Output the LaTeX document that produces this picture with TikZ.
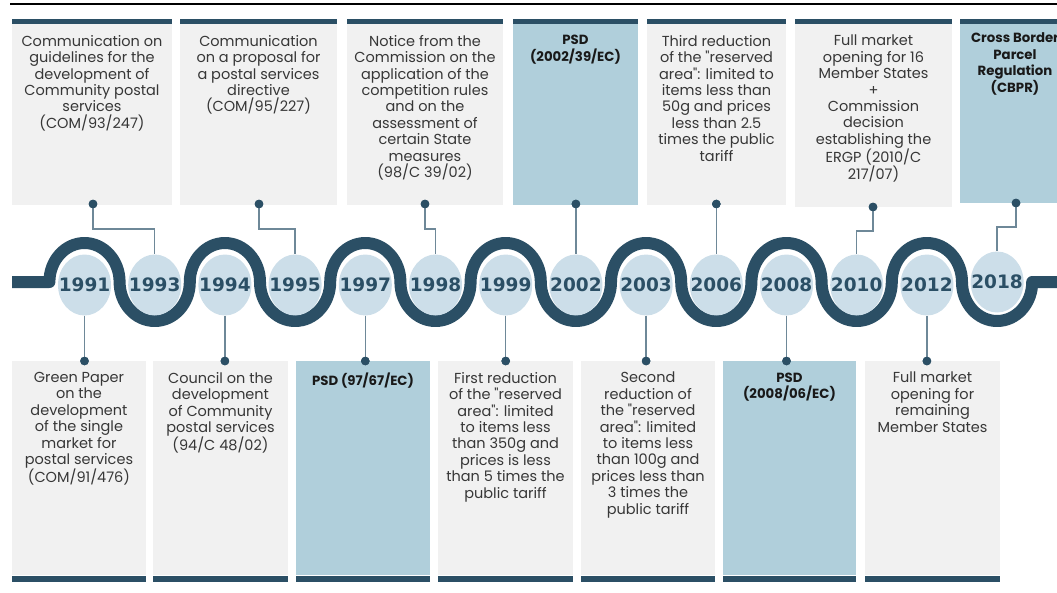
\documentclass[tikz,border=0pt]{standalone}
\usepackage{fontspec}
\newfontfamily\bodyfont{Poppins}
\usetikzlibrary{shapes.geometric}
\newfontfamily\yearfont{DejaVu Sans}
\definecolor{dark}{RGB}{43,79,101}
\definecolor{boxgray}{RGB}{241,241,241}
\definecolor{boxblue}{RGB}{176,207,219}
\definecolor{circfill}{RGB}{204,222,233}
\definecolor{connc}{RGB}{110,136,152}
\definecolor{txtc}{RGB}{55,55,55}
\tikzset{
  yearst/.style={ellipse, fill=circfill, minimum width=53pt, minimum height=61pt, inner sep=0pt, text=dark, font=\yearfont\bfseries\fontsize{18.5}{20}\selectfont},
  dotst/.style={circle, fill=dark, minimum size=8.6pt, inner sep=0pt},
  conn/.style={draw=connc, line width=1.5pt},
  txt/.style={align=center, inner sep=0pt, anchor=north, text=txtc, font=\bodyfont\fontsize{14.5}{16.4}\selectfont},
  btxt/.style={align=center, inner sep=0pt, anchor=north, text=black!90, font=\bodyfont\bfseries\fontsize{13.3}{16.5}\selectfont},
  wave/.style={draw=dark, line width=12pt, line join=round},
  archup/.style={start angle=180, end angle=0, x radius=35.1pt, y radius=39pt},
  archdown/.style={start angle=180, end angle=360, x radius=35.1pt, y radius=39pt},
  bar/.style={fill=dark},
}
\newcommand\yr[1]{\makebox[0pt]{#1}}
\begin{document}
\begin{tikzpicture}[x=1pt,y=1pt]
\useasboundingbox (0,0) rectangle (1057,-592);
% top rule
\draw[line width=2pt] (10,-3.5) -- (1060,-3.5);
% top boxes
\fill[boxgray] (12,-24) rectangle (172,-205);   \fill[bar] (12,-19) rectangle (172,-24);
\fill[boxgray] (180,-24) rectangle (337,-205);  \fill[bar] (180,-19) rectangle (337,-24);
\fill[boxgray] (347,-24) rectangle (503,-205);  \fill[bar] (347,-19) rectangle (503,-24);
\fill[boxblue] (513,-24) rectangle (638,-205);  \fill[bar] (513,-19) rectangle (638,-24);
\fill[boxgray] (647,-24) rectangle (786,-205);  \fill[bar] (647,-19) rectangle (786,-24);
\fill[boxgray] (795,-24) rectangle (952,-207);  \fill[bar] (795,-19) rectangle (952,-24);
\fill[boxblue] (960,-24) rectangle (1070,-203); \fill[bar] (960,-19) rectangle (1070,-24);
% bottom boxes
\fill[boxgray] (12,-361) rectangle (146,-575);   \fill[bar] (12,-576) rectangle (146,-582);
\fill[boxgray] (153,-361) rectangle (288,-575);  \fill[bar] (153,-576) rectangle (288,-582);
\fill[boxblue] (296,-361) rectangle (430,-575);  \fill[bar] (296,-576) rectangle (430,-582);
\fill[boxgray] (438,-361) rectangle (573,-575);  \fill[bar] (438,-576) rectangle (573,-582);
\fill[boxgray] (581,-361) rectangle (715,-575);  \fill[bar] (581,-576) rectangle (715,-582);
\fill[boxblue] (723,-361) rectangle (856,-575);  \fill[bar] (723,-576) rectangle (856,-582);
\fill[boxgray] (865,-361) rectangle (1000,-575); \fill[bar] (865,-576) rectangle (1000,-582);
% wave
\draw[wave] (12,-282) -- (49.4,-282)
  arc[archup] arc[archdown] arc[archup] arc[archdown]
  arc[archup] arc[archdown] arc[archup] arc[archdown]
  arc[archup] arc[archdown] arc[archup] arc[archdown]
  arc[archup] arc[archdown] -- (1065,-282);
% year ellipses
\node[yearst] (y1991) at (84.5,-285) {\yr{1991}};
\node[yearst] (y1993) at (154.7,-285) {\yr{1993}};
\node[yearst] (y1994) at (224.9,-285) {\yr{1994}};
\node[yearst] (y1995) at (295.1,-285) {\yr{1995}};
\node[yearst] (y1997) at (365.3,-285) {\yr{1997}};
\node[yearst] (y1998) at (435.5,-285) {\yr{1998}};
\node[yearst] (y1999) at (505.7,-285) {\yr{1999}};
\node[yearst] (y2002) at (575.9,-285) {\yr{2002}};
\node[yearst] (y2003) at (646.1,-285) {\yr{2003}};
\node[yearst] (y2006) at (716.3,-285) {\yr{2006}};
\node[yearst] (y2008) at (786.5,-285) {\yr{2008}};
\node[yearst] (y2010) at (856.7,-285) {\yr{2010}};
\node[yearst] (y2012) at (926.9,-285) {\yr{2012}};
\node[yearst] (y2018) at (997.1,-282) {\yr{2018}};
% dots
\node[dotst] (d1993) at (93,-204) {};
\node[dotst] (d1995) at (259,-204) {};
\node[dotst] (d1998) at (425,-204) {};
\node[dotst] (d2002) at (575.9,-204) {};
\node[dotst] (d2006) at (716.3,-204) {};
\node[dotst] (d2010) at (873,-207) {};
\node[dotst] (d2018) at (1016,-203) {};
\node[dotst] (d1991) at (84.5,-361) {};
\node[dotst] (d1994) at (224.9,-361) {};
\node[dotst] (d1997) at (365.3,-361) {};
\node[dotst] (d1999) at (505.7,-361) {};
\node[dotst] (d2003) at (646.1,-361) {};
\node[dotst] (d2008) at (786.5,-361) {};
\node[dotst] (d2012) at (926.9,-361) {};
% connectors
\draw[conn] (d1993.center) -- ++(0,-25) -| (y1993.north);
\draw[conn] (d1995.center) -- ++(0,-25) -| (y1995.north);
\draw[conn] (d1998.center) -- ++(0,-25) -| (y1998.north);
\draw[conn] (d2002.center) -- (y2002.north);
\draw[conn] (d2006.center) -- (y2006.north);
\draw[conn] (d2010.center) -- ++(0,-24) -| (y2010.north);
\draw[conn] (d2018.center) -- ++(0,-24) -| (y2018.north);
\draw[conn] (y1991.south) -- (d1991.center);
\draw[conn] (y1994.south) -- (d1994.center);
\draw[conn] (y1997.south) -- (d1997.center);
\draw[conn] (y1999.south) -- (d1999.center);
\draw[conn] (y2003.south) -- (d2003.center);
\draw[conn] (y2008.south) -- (d2008.center);
\draw[conn] (y2012.south) -- (d2012.center);
% dots on top of connectors
\foreach \n in {d1993,d1995,d1998,d2002,d2006,d2010,d2018,d1991,d1994,d1997,d1999,d2003,d2008,d2012}
  \fill[dark] (\n.center) circle (4.3pt);
% top texts
\node[txt] (t1) at (92,-35) {Communication on\\guidelines for the\\development of\\Community postal\\services\\(COM/93/247)};
\node[txt] (t2) at (258.5,-35) {Communication\\on a proposal for\\a postal services\\directive\\(COM/95/227)};
\node[txt] (t3) at (425,-35) {Notice from the\\Commission on the\\application of the\\competition rules\\and on the\\assessment of\\certain State\\measures\\(98/C 39/02)};
\node[btxt] (t4) at (575.5,-35) {PSD\\(2002/39/EC)};
\node[txt] (t5) at (716.5,-35) {Third reduction\\of the "reserved\\area": limited to\\items less than\\50g and prices\\less than 2.5\\times the public\\tariff};
\node[txt] (t6) at (873.5,-35) {Full market\\opening for 16\\Member States\\+\\Commission\\decision\\establishing the\\ERGP (2010/C\\217/07)};
\node[btxt] (t7) at (1015,-32.5) {Cross Border\\Parcel\\Regulation\\(CBPR)};
% bottom texts
\node[txt] (b1) at (79,-372) {Green Paper\\on the\\development\\of the single\\market for\\postal services\\(COM/91/476)};
\node[txt] (b2) at (220.5,-372) {Council on the\\development\\of Community\\postal services\\(94/C 48/02)};
\node[btxt] (b3) at (363,-372.5) {PSD (97/67/EC)};
\node[txt] (b4) at (505.5,-372) {First reduction\\of the "reserved\\area": limited\\to items less\\than 350g and\\prices is less\\than 5 times the\\public tariff};
\node[txt] (b5) at (648,-372) {Second\\reduction of\\the "reserved\\area": limited\\to items less\\than 100g and\\prices less than\\3 times the\\public tariff};
\node[btxt] (b6) at (789.5,-372.5) {PSD\\(2008/06/EC)};
\node[txt] (b7) at (932.5,-372) {Full market\\opening for\\remaining\\Member States};
\end{tikzpicture}
\end{document}
